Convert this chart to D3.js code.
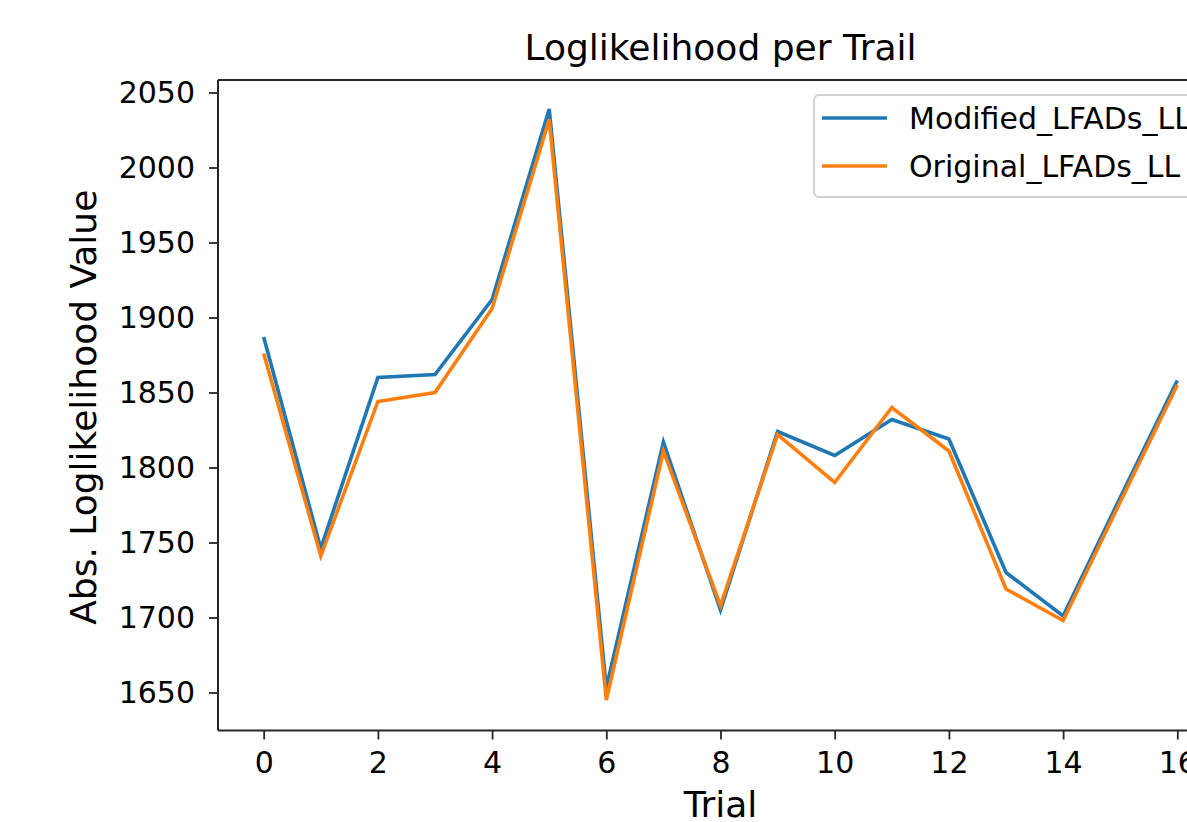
<!DOCTYPE html>
<html lang="en">
<head>
    <meta charset="UTF-8">
    <script src="https://d3js.org/d3.v7.min.js"></script>
    <title>Loglikelihood per Trail</title>
    <style>
        body {
            margin: 0;
            background: #fff;
            font-family: "DejaVu Sans", sans-serif;
        }
        .tick text {
            font-size: 30px;
            fill: #000;
        }
        .tick line {
            stroke: #262626;
            stroke-width: 1.8;
        }
    </style>
</head>
<body>
    <svg id="chart" width="1187" height="822"></svg>

    <script>
        // data
        const trials = [0, 1, 2, 3, 4, 5, 6, 7, 8, 9, 10, 11, 12, 13, 14, 15, 16];
        const modifiedLL = [1887, 1746, 1860, 1862, 1912, 2039, 1653, 1817, 1705, 1824, 1808, 1832, 1819, 1730, 1701, 1780, 1858];
        const originalLL = [1876, 1741, 1844, 1850, 1906, 2032, 1645, 1811, 1708, 1822, 1790, 1840, 1811, 1719, 1698, 1777, 1855];
        const xTicks = [0, 2, 4, 6, 8, 10, 12, 14, 16];
        const yTicks = [1650, 1700, 1750, 1800, 1850, 1900, 1950, 2000, 2050];
        const seriesNames = ["Modified_LFADs_LL", "Original_LFADs_LL"];
        const colors = ["#1f77b4", "#ff7f0e"];

        const svg = d3.select("#chart");
        const m = { left: 218, top: 80, right: 1223, bottom: 730.5 };

        const x = d3.scaleLinear()
            .domain([-0.8, 16.8])
            .range([m.left, m.right]);

        const y = d3.scaleLinear()
            .domain([2050 - (m.bottom - 92.5) / 1.5, 2050 + (92.5 - m.top) / 1.5])
            .range([m.bottom, m.top]);

        // axes
        svg.append("g")
            .attr("transform", `translate(0,${m.bottom})`)
            .call(d3.axisBottom(x).tickValues(xTicks).tickSize(9).tickPadding(12).tickFormat(d3.format("d")))
            .call(g => g.select(".domain").remove())
            .selectAll("text").attr("font-family", "DejaVu Sans");

        svg.append("g")
            .attr("transform", `translate(${m.left},0)`)
            .call(d3.axisLeft(y).tickValues(yTicks).tickSize(9).tickPadding(14).tickFormat(d3.format("d")))
            .call(g => g.select(".domain").remove())
            .selectAll("text").attr("font-family", "DejaVu Sans");

        // lines
        const line = d3.line()
            .x((d, i) => x(trials[i]))
            .y(d => y(d));

        [modifiedLL, originalLL].forEach((vals, i) => {
            svg.append("path")
                .datum(vals)
                .attr("fill", "none")
                .attr("stroke", colors[i])
                .attr("stroke-width", 3.6)
                .attr("stroke-linejoin", "miter")
                .attr("d", line);
        });

        // spines
        const spine = svg.append("g")
            .attr("stroke", "#262626")
            .attr("stroke-width", 2)
            .attr("fill", "none");
        spine.append("line").attr("x1", m.left).attr("x2", m.left).attr("y1", m.top).attr("y2", m.bottom);
        spine.append("line").attr("x1", m.left).attr("x2", m.right).attr("y1", m.top).attr("y2", m.top);
        spine.append("line").attr("x1", m.left).attr("x2", m.right).attr("y1", m.bottom).attr("y2", m.bottom);
        spine.append("line").attr("x1", m.right).attr("x2", m.right).attr("y1", m.top).attr("y2", m.bottom);

        // legend
        const legend = svg.append("g").attr("transform", "translate(814,95)");
        legend.append("rect")
            .attr("width", 420)
            .attr("height", 102)
            .attr("rx", 5)
            .attr("fill", "#fff")
            .attr("fill-opacity", 0.8)
            .attr("stroke", "#d0d0d0")
            .attr("stroke-width", 1.8);

        seriesNames.forEach((name, i) => {
            const ly = 23 + i * 48;
            legend.append("line")
                .attr("x1", 8).attr("x2", 73)
                .attr("y1", ly).attr("y2", ly)
                .attr("stroke", colors[i])
                .attr("stroke-width", 3.6);
            legend.append("text")
                .attr("x", 95)
                .attr("y", ly + 11)
                .attr("font-size", 30)
                .attr("fill", "#000")
                .text(name);
        });

        // title and axis labels
        svg.append("text")
            .attr("x", (m.left + m.right) / 2)
            .attr("y", 60)
            .attr("text-anchor", "middle")
            .attr("font-size", 36)
            .text("Loglikelihood per Trail");

        svg.append("text")
            .attr("x", (m.left + m.right) / 2)
            .attr("y", 817)
            .attr("text-anchor", "middle")
            .attr("font-size", 36)
            .text("Trial");

        svg.append("text")
            .attr("transform", `translate(96,${(m.top + m.bottom) / 2 + 2}) rotate(-90)`)
            .attr("text-anchor", "middle")
            .attr("font-size", 36)
            .text("Abs. Loglikelihood Value");
    </script>
</body>
</html>
